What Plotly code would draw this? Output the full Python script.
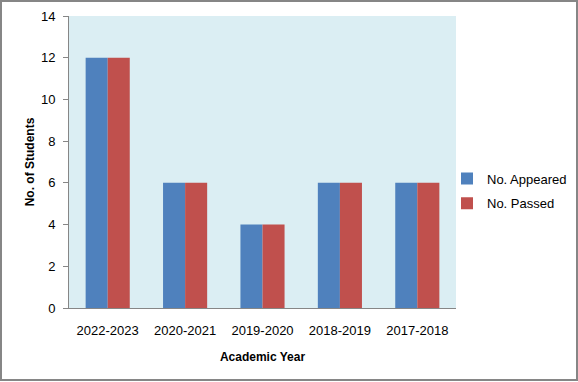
import plotly.graph_objects as go

years = ["2022-2023", "2020-2021", "2019-2020", "2018-2019", "2017-2018"]
appeared = [12, 6, 4, 6, 6]
passed = [12, 6, 4, 6, 6]

W, H = 578, 382
L, R, T, B = 69, 122, 16, 74
pw, ph = W - L - R, H - T - B

fig = go.Figure()
fig.add_trace(go.Bar(x=years, y=appeared, name="No. Appeared", legendgroup="a",
                     marker=dict(color="#4F81BD", line=dict(width=0))))
fig.add_trace(go.Bar(x=years, y=passed, name="No. Passed", legendgroup="b",
                     marker=dict(color="#C0504D", line=dict(width=0))))

font = "Liberation Sans, Arial, sans-serif"
fig.update_layout(
    width=W, height=H,
    margin=dict(l=L, r=R, t=T, b=B, autoexpand=False),
    paper_bgcolor="white", plot_bgcolor="#DBEEF3",
    barmode="group", bargap=0.43, bargroupgap=0,
    font=dict(family=font, size=12, color="black"),
    showlegend=True,
    legend=dict(x=(447 - L) / pw, y=(308 - 191) / ph, xanchor="left", yanchor="middle",
                font=dict(size=13), itemwidth=30, tracegroupgap=5, bgcolor="rgba(0,0,0,0)"),
    xaxis=dict(title=dict(text="<b>Academic Year</b>", font=dict(size=12), standoff=16),
               showline=True, linecolor="#868686", linewidth=1, ticks="", ticklen=0,
               tickfont=dict(size=13), ticklabelstandoff=10, showgrid=False),
    yaxis=dict(title=dict(text="<b>No. of Students</b>", font=dict(size=12), standoff=3),
               range=[0, 14], dtick=2, showline=True, linecolor="#868686", linewidth=1,
               ticks="outside", ticklen=5, tickcolor="#868686", tickfont=dict(size=13),
               ticklabelstandoff=5, showgrid=False, zeroline=False),
    shapes=[dict(type="rect", xref="paper", yref="paper",
                 x0=(1 - L) / pw, x1=(577 - L) / pw, y0=(308 - 380) / ph, y1=(308 - 1) / ph,
                 line=dict(color="#868686", width=2), fillcolor="rgba(0,0,0,0)", layer="below")],
)
fig.write_html("out.html", config={"displayModeBar": False},
               post_script="document.body.style.margin='0';document.body.style.overflow='hidden';")
